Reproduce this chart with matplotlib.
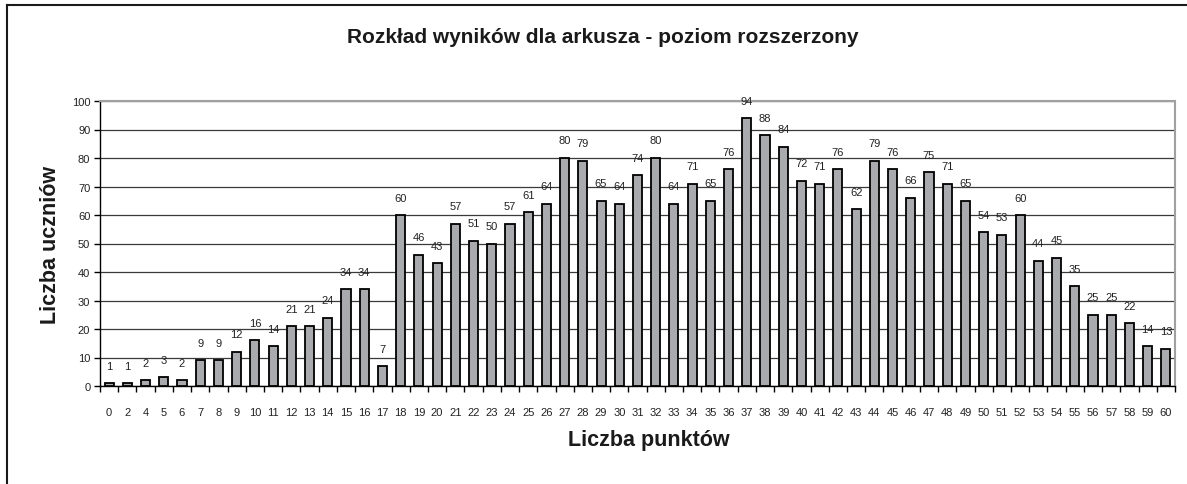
import matplotlib.pyplot as plt
import numpy as np
from matplotlib.lines import Line2D

# punkty (brak 1 i 3) i liczba uczniów
points = [0, 2, 4, 5, 6] + list(range(7, 61))
students = [
    1, 1, 2, 3, 2,
    9, 9, 12, 16, 14, 21, 21, 24, 34, 34,
    7,
    60, 46, 43, 57, 51, 50, 57, 61, 64,
    80, 79, 65, 64, 74, 80, 64, 71, 65, 76,
    94, 88, 84, 72, 71, 76, 62, 79, 76, 66,
    75, 71, 65, 54, 53, 60, 44, 45, 35, 25,
    25, 22, 14, 13,
]
y_ticks = [0, 10, 20, 30, 40, 50, 60, 70, 80, 90, 100]

TITLE = "Rozkład wyników dla arkusza - poziom rozszerzony"
X_LABEL = "Liczba punktów"
Y_LABEL = "Liczba uczniów"

plt.rcParams["font.family"] = ["Liberation Sans", "DejaVu Sans"]

fig = plt.figure(figsize=(11.87, 4.85), dpi=100)
ax = fig.add_axes([100 / 1187, 1 - 387 / 485, 1075 / 1187, 285 / 485])

x = np.arange(len(points))
ax.bar(x, students, width=0.5, color="#a8aaad", edgecolor="black",
       linewidth=1.3, zorder=3)

for xi, v in zip(x, students):
    ax.annotate(str(v), (xi, v), xytext=(0, 9), textcoords="offset points",
                ha="center", va="bottom", fontsize=8, color="#222222", zorder=4)

ax.set_xlim(-0.5, len(points) - 0.5)
ax.set_ylim(0, 100)
ax.set_yticks(y_ticks)
ax.set_xticks(x)
ax.set_xticklabels([str(p) for p in points])
ax.set_xticks(np.arange(len(points) + 1) - 0.5, minor=True)
ax.tick_params(axis="x", which="major", length=0, labelsize=8, pad=15,
               labelcolor="#222222")
ax.tick_params(axis="x", which="minor", length=4, direction="out", width=1)
ax.tick_params(axis="y", length=4, direction="out", width=1, labelsize=8,
               labelcolor="#222222", pad=3)

ax.grid(axis="y", color="#3a3a3a", linewidth=0.9, zorder=1)

for side in ["top", "right"]:
    ax.spines[side].set_color("#a0a0a0")
    ax.spines[side].set_linewidth(1.5)
for side in ["left", "bottom"]:
    ax.spines[side].set_color("black")
    ax.spines[side].set_linewidth(1.0)

fig.text(603 / 1187, 1 - 38 / 485, TITLE, ha="center", va="center",
         fontsize=15, fontweight="bold", color="#1a1a1a")
fig.text(649 / 1187, 1 - 441 / 485, X_LABEL, ha="center", va="center",
         fontsize=15.5, fontweight="bold", color="#1a1a1a")
fig.text(51 / 1187, 1 - 245 / 485, Y_LABEL, ha="center", va="center",
         rotation=90, fontsize=15.5, fontweight="bold", color="#1a1a1a")

# ramka wykresu (górna i lewa krawędź)
fig.add_artist(Line2D([7 / 1187, 1], [1 - 6 / 485, 1 - 6 / 485],
                      color="#1a1a1a", linewidth=1.5))
fig.add_artist(Line2D([7 / 1187, 7 / 1187], [0, 1 - 6 / 485],
                      color="#1a1a1a", linewidth=1.5))

fig.savefig("out.png", dpi=100)
